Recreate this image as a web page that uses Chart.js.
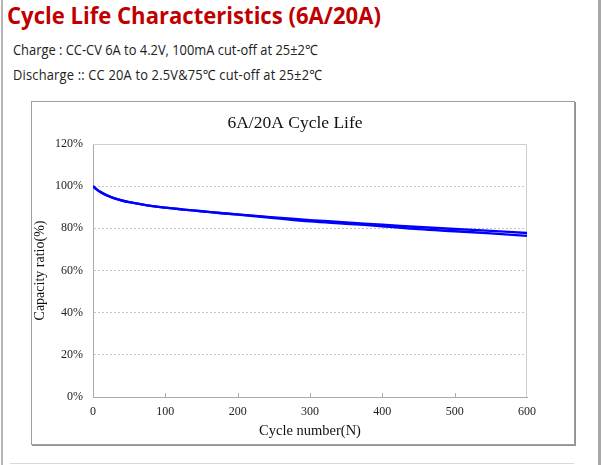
<!DOCTYPE html>
<html>
<head>
<meta charset="UTF-8">
<title>Cycle Life Characteristics</title>
<style>
  html, body { margin: 0; padding: 0; background: #fff; }
  body { width: 604px; height: 465px; position: relative; overflow: hidden; font-family: "Open Sans", "Noto Sans", sans-serif; }
  .frame-left { position: absolute; left: 1px; top: 0; width: 2px; height: 465px; background: #b4b4b4; }
  .frame-right { position: absolute; left: 598px; top: 0; width: 3px; height: 465px; background: #a8a8a8; }
  .frame-bottom { position: absolute; left: 10px; top: 463px; width: 564px; height: 1px; background: #d8d8d8; }
  h1 { position: absolute; left: 7px; top: -2px; margin: 0; font-size: 24px; font-weight: bold; color: #c00000; white-space: nowrap; transform: scaleX(0.92); transform-origin: left top; }
  .cond { position: absolute; left: 13px; margin: 0; font-size: 14px; color: #222; white-space: nowrap; transform: scaleX(0.92); transform-origin: left top; }
  .chart-box { position: absolute; left: 31px; top: 101px; width: 542px; height: 342px; border: 1px solid #a0a0a0; box-shadow: 1px 1px 0 #909090; background: #fff; }
</style>
</head>
<body>
  <div class="frame-left"></div>
  <div class="frame-right"></div>
  <div class="frame-bottom"></div>
  <h1>Cycle Life Characteristics (6A/20A)</h1>
  <p class="cond" style="top:40px">Charge : CC-CV 6A to 4.2V, 100mA cut-off at 25±2℃</p>
  <p class="cond" style="top:65px; letter-spacing:0.2px">Discharge :: CC 20A to 2.5V&amp;75℃ cut-off at 25±2℃</p>
  <div class="chart-box"><canvas id="cycleChart" width="542" height="342"></canvas></div>

<script src="https://cdn.jsdelivr.net/npm/chart.js"></script>
<script>
// Số liệu
const cycles  = [0, 5, 10, 20, 30, 40, 50, 75, 100, 125, 150, 175, 200, 250, 300, 350, 400, 450, 500, 550, 600];
const seriesA = [100, 98.5, 97.3, 95.5, 94.2, 93.2, 92.4, 90.9, 89.8, 88.9, 88.1, 87.3, 86.6, 85.2, 83.9, 82.8, 81.7, 80.6, 79.7, 78.8, 77.8];
const seriesB = [100, 98.5, 97.3, 95.5, 94.2, 93.2, 92.4, 90.9, 89.8, 88.9, 88.1, 87.3, 86.5, 84.9, 83.3, 82.2, 81.0, 79.6, 78.6, 77.6, 76.4];
const xTicks = [0, 100, 200, 300, 400, 500, 600];
const yTicks = [0, 20, 40, 60, 80, 100, 120];
const yTickLabels = ['0%', '20%', '40%', '60%', '80%', '100%', '120%'];

const serif = '"Liberation Serif", "Times New Roman", serif';

// Khung vùng vẽ + vạch chia trục x hướng vào trong
const framePlugin = {
  id: 'frame',
  beforeDatasetsDraw(chart) {
    const { ctx, chartArea: a, scales } = chart;
    ctx.save();
    ctx.strokeStyle = '#cfcfcf';
    ctx.lineWidth = 1;
    ctx.beginPath();
    ctx.moveTo(a.left, a.top + 0.5);
    ctx.lineTo(a.right - 0.5, a.top + 0.5);
    ctx.lineTo(a.right - 0.5, a.bottom);
    ctx.stroke();
    ctx.strokeStyle = '#aaaaaa';
    xTicks.forEach(v => {
      if (v === 0 || v === 600) return;
      const px = Math.round(scales.x.getPixelForValue(v)) + 0.5;
      ctx.beginPath();
      ctx.moveTo(px, a.bottom);
      ctx.lineTo(px, a.bottom - 4);
      ctx.stroke();
    });
    ctx.restore();
  }
};

const toPoints = ys => cycles.map((c, i) => ({ x: c, y: ys[i] }));

new Chart(document.getElementById('cycleChart'), {
  type: 'line',
  data: {
    datasets: [
      { label: 'A', data: toPoints(seriesA), borderColor: '#0000ff', borderWidth: 2.4, pointRadius: 0, tension: 0.4, fill: false },
      { label: 'B', data: toPoints(seriesB), borderColor: '#0000ff', borderWidth: 2.4, pointRadius: 0, tension: 0.4, fill: false }
    ]
  },
  options: {
    responsive: false,
    animation: false,
    layout: { padding: { right: 16, left: 0, top: 0, bottom: 0 } },
    plugins: {
      legend: { display: false },
      tooltip: { enabled: false },
      title: {
        display: true,
        text: '6A/20A Cycle Life',
        color: '#111',
        font: { family: serif, size: 17.5, weight: 'normal' },
        padding: { top: 11, bottom: 10 }
      }
    },
    scales: {
      x: {
        type: 'linear',
        min: 0, max: 600,
        afterBuildTicks: s => { s.ticks = xTicks.map(v => ({ value: v })); },
        afterFit: s => { s.height = 47; },
        grid: { display: false, drawTicks: false },
        border: { display: true, color: '#aaaaaa', width: 1 },
        ticks: { color: '#222', font: { family: serif, size: 12 }, padding: 8, maxRotation: 0 },
        title: { display: true, text: 'Cycle number(N)', color: '#111', font: { family: serif, size: 14.5 }, padding: { top: 4 } }
      },
      y: {
        min: 0, max: 120,
        afterBuildTicks: s => { s.ticks = yTicks.map(v => ({ value: v })); },
        afterFit: s => { s.width = 61; },
        grid: {
          drawTicks: false,
          color: ctx => (ctx.tick && (ctx.tick.value === 0 || ctx.tick.value === 120)) ? 'rgba(0,0,0,0)' : '#c4c4c4',
          lineWidth: 1
        },
        border: { display: true, color: '#aaaaaa', width: 1, dash: [2, 2] },
        ticks: {
          color: '#222',
          font: { family: serif, size: 12 },
          padding: 10,
          callback: v => yTickLabels[yTicks.indexOf(v)]
        },
        title: { display: true, text: 'Capacity ratio(%)', color: '#111', font: { family: serif, size: 14 }, padding: { top: 0, bottom: 0 } }
      },
      // trục phụ bên phải chỉ để giữ khoảng trống, giúp tiêu đề nằm đúng chỗ
      yRight: {
        position: 'right',
        min: 0, max: 120,
        afterFit: s => { s.width = 31; },
        grid: { display: false, drawTicks: false },
        border: { display: false },
        ticks: { display: false }
      }
    }
  },
  plugins: [framePlugin]
});
</script>
</body>
</html>
